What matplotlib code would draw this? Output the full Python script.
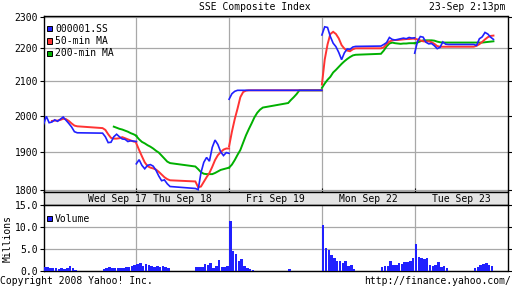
"""
SSE Composite Index, 5-day intraday chart (Yahoo! Finance style).
Price with 50-min and 200-min moving averages, volume panel below.
"""
import numpy as np
import matplotlib; matplotlib.use("Agg")
import matplotlib.pyplot as plt
from matplotlib.patches import Rectangle
from matplotlib.ticker import NullLocator, NullFormatter

nan = np.nan

DAYS = ["Wed Sep 17", "Thu Sep 18", "Fri Sep 19", "Mon Sep 22", "Tue Sep 23"]
DAY_MIN = 330   # 9:30 .. 15:00

# minutes after 9:30 for the price samples (morning 9:30-11:30, afternoon 13:00-15:00)
MINUTES = [0, 10, 20, 30, 40, 50, 60, 70, 80, 90, 100, 110, 120,
           210, 220, 230, 240, 250, 260, 270, 280, 290, 300, 310, 320, 330]
# start minute of each volume bar
VOL_MINUTES = [0, 10, 20, 30, 40, 50, 60, 70, 80, 90, 100, 110,
               210, 220, 230, 240, 250, 260, 270, 280, 290, 300, 310, 320]

PRICE_WED = [1975, 1998, 1980, 1982, 1988, 1984, 1990, 1996, 1987, 1978, 1968, 1955, 1952,
             1951, 1941, 1925, 1926, 1941, 1948, 1941, 1935, 1934, 1928, 1930, 1929, 1928]
PRICE_THU = [1868, 1879, 1864, 1855, 1864, 1866, 1862, 1851, 1836, 1824, 1826, 1816, 1809,
             1804, 1801, 1845, 1872, 1885, 1875, 1912, 1932, 1920, 1900, 1890, 1898, 1896]
PRICE_FRI = [2047, 2063, 2070, 2073, 2073, 2073, 2073, 2073, 2073, 2073, 2073, 2073, 2073,
             2073, 2073, 2073, 2073, 2073, 2073, 2073, 2073, 2073, 2073, 2073, 2073, 2073]
PRICE_MON = [2242, 2268, 2266, 2237, 2216, 2205, 2187, 2165, 2186, 2198, 2197, 2204, 2206,
             2207, 2212, 2218, 2234, 2228, 2226, 2228, 2230, 2232, 2230, 2234, 2232, 2233]
PRICE_TUE = [2185, 2222, 2237, 2235, 2219, 2214, 2215, 2208, 2199, 2203, 2220, 2213, 2212,
             2212, 2209, 2230, 2236, 2250, 2245, 2235, 2228]

MA50_WED = [nan, nan, nan, 1985, 1986, 1986, 1988, 1991, 1990, 1985, 1978, 1972, 1970,
            1965, 1960, 1948, 1938, 1936, 1936, 1937, 1940, 1937, 1934, 1931, 1928, 1927]
MA50_THU = [1923, 1905, 1888, 1872, 1862, 1858, 1856, 1853, 1847, 1840, 1833, 1828, 1825,
            1822, 1807, 1809, 1821, 1833, 1844, 1860, 1878, 1891, 1899, 1906, 1909, 1909]
MA50_FRI = [1915, 1955, 1990, 2020, 2053, 2068, 2072, 2073, 2073, 2073, 2073, 2073, 2073,
            2073, 2073, 2073, 2073, 2073, 2073, 2073, 2073, 2073, 2073, 2073, 2073, 2073]
MA50_MON = [2090, 2165, 2212, 2245, 2252, 2245, 2231, 2210, 2199, 2193, 2191, 2197, 2200,
            2200, 2203, 2213, 2221, 2225, 2226, 2226, 2227, 2228, 2229, 2229, 2230, 2231]
MA50_TUE = [2230, 2228, 2225, 2222, 2221, 2222, 2219, 2214, 2207, 2205, 2205, 2205, 2205,
            2205, 2208, 2213, 2220, 2228, 2235, 2239, 2240]

MA200_WED = [nan, nan, nan, nan, nan, nan, nan, nan, nan, nan, nan, nan, nan,
             nan, nan, nan, nan, 1969, 1966, 1963, 1961, 1958, 1955, 1951, 1948, 1944]
MA200_THU = [1943, 1934, 1927, 1923, 1918, 1914, 1909, 1903, 1898, 1890, 1882, 1874, 1870,
             1861, 1854, 1846, 1842, 1841, 1841, 1841, 1844, 1848, 1852, 1854, 1856, 1858]
MA200_FRI = [1858, 1866, 1878, 1892, 1905, 1925, 1945, 1962, 1978, 1995, 2008, 2017, 2023,
             2036, 2045, 2053, 2062, 2073, 2073, 2073, 2073, 2073, 2073, 2073, 2073, 2073]
MA200_MON = [2080, 2093, 2104, 2113, 2126, 2134, 2143, 2152, 2160, 2167, 2173, 2178, 2180,
             2183, 2193, 2206, 2215, 2218, 2216, 2215, 2214, 2215, 2215, 2216, 2216, 2216]
MA200_TUE = [2216, 2218, 2222, 2225, 2225, 2225, 2225, 2224, 2221, 2219, 2218, 2218, 2218,
             2218, 2218, 2218, 2218, 2219, 2220, 2221, 2222]

# volume, millions per 10-min bar
VOL_WED = [0.9, 0.9, 0.7, 0.6, 0.8, 0.5, 0.7, 0.4, 0.6, 1.1, 0.8, 0.3,
           0.5, 0.6, 1.0, 0.8, 0.6, 0.7, 0.8, 0.6, 0.9, 1.0, 1.1, 1.3]
VOL_THU = [1.6, 1.8, 1.2, 1.5, 1.3, 1.1, 1.0, 1.2, 0.9, 1.2, 1.0, 0.8,
           0.9, 0.9, 1.0, 1.5, 1.4, 1.8, 0.8, 1.1, 2.5, 1.0, 1.0, 1.2]
VOL_FRI = [11.5, 4.6, 3.8, 2.2, 2.7, 1.2, 0.6, 0.4, 0.3, 0.0, 0.0, 0.0,
           0.4, 0.0, 0.0, 0.0, 0.0, 0.0, 0.0, 0.0, 0.0, 0.0, 0.0, 0.0]
VOL_MON = [10.5, 5.2, 4.8, 3.6, 2.9, 2.4, 2.2, 1.8, 2.3, 1.2, 1.3, 0.5,
           1.0, 1.1, 1.2, 2.3, 1.3, 1.4, 1.8, 1.6, 2.0, 2.0, 2.2, 2.9]
VOL_TUE = [6.2, 3.1, 2.9, 2.7, 2.9, 1.4, 1.2, 1.3, 2.0, 1.0, 1.1, 0.6,
           0.7, 0.9, 1.3, 1.5, 1.8, 1.4, 1.1]

PRICE = [PRICE_WED, PRICE_THU, PRICE_FRI, PRICE_MON, PRICE_TUE]
MA50 = [MA50_WED, MA50_THU, MA50_FRI, MA50_MON, MA50_TUE]
MA200 = [MA200_WED, MA200_THU, MA200_FRI, MA200_MON, MA200_TUE]
VOLUME = [VOL_WED, VOL_THU, VOL_FRI, VOL_MON, VOL_TUE]

Y_TICKS = [1800, 1900, 2000, 2100, 2200, 2300]
V_TICKS = [0, 5, 10, 15]

BLUE, RED, GREEN = "#2020ff", "#ff3333", "#00b000"
GRID = "#a8a8a8"
FONT = dict(family="DejaVu Sans Mono", size=7)
plt.rcParams["font.family"] = "DejaVu Sans Mono"

W, H = 512, 288
fig = plt.figure(figsize=(W / 100, H / 100), dpi=100)

def box(l, t, r, b):
    return [l / W, 1 - b / H, (r - l) / W, (b - t) / H]

def px(x, y):
    return x / W, 1 - y / H

ax = fig.add_axes(box(43.5, 15.7, 507.5, 192))
band = fig.add_axes(box(43.5, 192, 507.5, 205))
axv = fig.add_axes(box(43.5, 205, 507.5, 271))

bounds = [DAY_MIN * i for i in range(1, len(DAYS))]
for a in (ax, band, axv):
    a.set_xlim(0, DAY_MIN * len(DAYS))
    for s in a.spines.values():
        s.set_linewidth(1.0)

# price panel
for i in range(len(DAYS)):
    base = i * DAY_MIN
    for vals, col, z, lw in ((MA200[i], GREEN, 2, 1.4), (MA50[i], RED, 3, 1.4),
                             (PRICE[i], BLUE, 4, 1.2)):
        x = base + np.array(MINUTES[:len(vals)])
        ax.plot(x, vals, color=col, lw=lw, zorder=z, solid_joinstyle="miter")

ax.set_yscale("log")
ax.set_ylim(1795, 2304)
ax.yaxis.set_minor_locator(NullLocator())
ax.yaxis.set_minor_formatter(NullFormatter())
ax.set_yticks(Y_TICKS)
ax.set_yticklabels([str(v) for v in Y_TICKS], **FONT)
ax.set_xticks(bounds)
ax.set_xticklabels([])
ax.grid(True, color=GRID, lw=0.9, zorder=0)
ax.tick_params(axis="y", direction="out", length=3, width=0.8, left=True, right=True, pad=1)
ax.tick_params(axis="x", direction="in", length=3, width=0.8, bottom=True, top=False)

# date band
band.set_facecolor("#e4e4e4")
band.set_ylim(0, 1)
band.set_xticks([])
band.set_yticks([])
label_pos = [DAY_MIN * i + DAY_MIN / 2 for i in range(len(DAYS))]
label_pos[0] = DAY_MIN * 0.8
for p, d in zip(label_pos, DAYS):
    band.text(p, 0.45, d, ha="center", va="center", **FONT)

# volume panel
for i in range(len(DAYS)):
    x = i * DAY_MIN + np.array(VOL_MINUTES[:len(VOLUME[i])])
    axv.bar(x, VOLUME[i], width=9, align="edge", color=BLUE, lw=0, zorder=3)
axv.set_ylim(0, 15.1)
axv.set_yticks(V_TICKS)
axv.set_yticklabels([f"{v:.1f}" for v in V_TICKS], **FONT)
axv.set_xticks(bounds)
axv.set_xticklabels([])
axv.grid(True, color=GRID, lw=0.9, zorder=0)
axv.tick_params(axis="y", direction="out", length=3, width=0.8, left=True, right=True, pad=1)
axv.tick_params(axis="x", length=0)

# legends
def legend_entry(x, y, col, label):
    fig.add_artist(Rectangle(px(x, y + 2.8), 5.5 / W, 5.5 / H, transform=fig.transFigure,
                             fc=col, ec="black", lw=0.7))
    fig.text(*px(x + 8.5, y), label, ha="left", va="center", **FONT)

legend_entry(46.5, 28.5, BLUE, "000001.SS")
legend_entry(46.5, 41, RED, "50-min MA")
legend_entry(46.5, 53.5, GREEN, "200-min MA")
legend_entry(46.5, 218.5, BLUE, "Volume")

# titles and footers
fig.text(*px(255, 10.5), "SSE Composite Index", ha="center", va="baseline", **FONT)
fig.text(*px(505, 10.5), "23-Sep 2:13pm", ha="right", va="baseline", **FONT)
fig.text(*px(0, 284), "Copyright 2008 Yahoo! Inc.", ha="left", va="baseline", **FONT)
fig.text(*px(511, 284), "http://finance.yahoo.com/", ha="right", va="baseline", **FONT)
fig.text(*px(8, 239), "Millions", ha="center", va="center", rotation=90, **FONT)

fig.savefig("out.png", dpi=100, facecolor="white")
